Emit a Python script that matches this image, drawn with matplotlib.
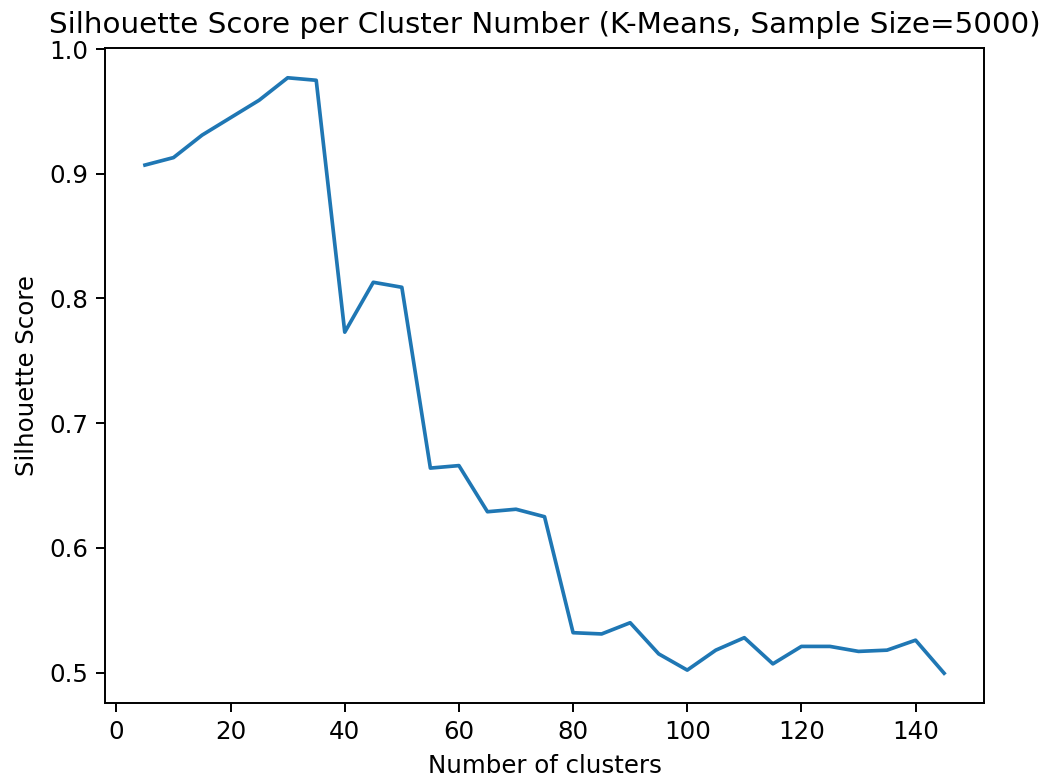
import matplotlib
matplotlib.use("Agg")
import matplotlib.pyplot as plt

# silhouette score for each k tried with K-Means
n_clusters = list(range(5, 150, 5))
silhouette_scores = [
    0.907, 0.913, 0.931, 0.945, 0.959, 0.977, 0.975, 0.773, 0.813, 0.809,
    0.664, 0.666, 0.629, 0.631, 0.625, 0.532, 0.531, 0.540, 0.515, 0.502,
    0.518, 0.528, 0.507, 0.521, 0.521, 0.517, 0.518, 0.526, 0.4995,
]

DPI = 176
fig, ax = plt.subplots(figsize=(1048 / DPI, 778 / DPI), dpi=DPI)
fig.subplots_adjust(left=0.1002, right=0.939, top=0.9383, bottom=0.0964)

ax.plot(n_clusters, silhouette_scores)
ax.set_title("Silhouette Score per Cluster Number (K-Means, Sample Size=5000)")
ax.set_xlabel("Number of clusters")
ax.set_ylabel("Silhouette Score")

fig.savefig("out.png", dpi=DPI)
